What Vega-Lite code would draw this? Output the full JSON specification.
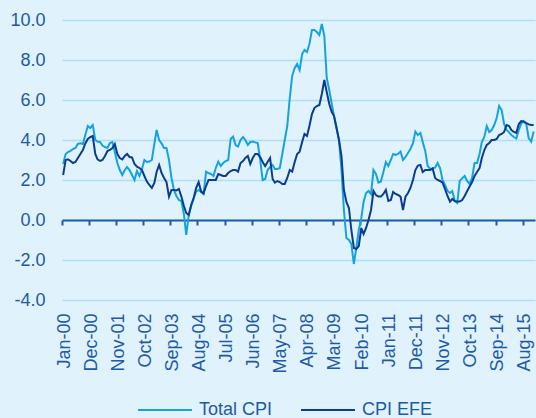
{
"$schema": "https://vega.github.io/schema/vega-lite/v6.json",
"width": 473, "height": 280,
"autosize": {"type": "none"},
"padding": {"left": 62, "top": 20, "right": 1, "bottom": 118},
"background": "#e0f2fb",
"config": {"view": {"stroke": null}, "font": "Liberation Sans"},
"data": {"values": [
{"d":"2000-01-15","t":2.8,"e":2.25},{"d":"2000-02-15","t":3.3,"e":3.0},{"d":"2000-03-15","t":3.4,"e":3.03},{"d":"2000-04-15","t":3.45,"e":2.95},{"d":"2000-05-15","t":3.55,"e":2.85},{"d":"2000-06-15","t":3.6,"e":2.9},{"d":"2000-07-15","t":3.8,"e":3.1},{"d":"2000-08-15","t":3.83,"e":3.3},{"d":"2000-09-15","t":3.8,"e":3.5},{"d":"2000-10-15","t":4.25,"e":3.83},{"d":"2000-11-15","t":4.7,"e":4.05},{"d":"2000-12-15","t":4.6,"e":4.15},
{"d":"2001-01-15","t":4.75,"e":4.2},{"d":"2001-02-15","t":4.0,"e":3.3},{"d":"2001-03-15","t":3.92,"e":3.03},{"d":"2001-04-15","t":3.9,"e":2.95},{"d":"2001-05-15","t":3.72,"e":3.0},{"d":"2001-06-15","t":3.65,"e":3.2},{"d":"2001-07-15","t":3.6,"e":3.45},{"d":"2001-08-15","t":3.85,"e":3.5},{"d":"2001-09-15","t":3.9,"e":3.6},{"d":"2001-10-15","t":3.4,"e":3.8},{"d":"2001-11-15","t":2.85,"e":3.3},{"d":"2001-12-15","t":2.5,"e":3.1},
{"d":"2002-01-15","t":2.25,"e":3.03},{"d":"2002-02-15","t":2.5,"e":3.2},{"d":"2002-03-15","t":2.65,"e":3.3},{"d":"2002-04-15","t":2.5,"e":3.15},{"d":"2002-05-15","t":2.25,"e":3.13},{"d":"2002-06-15","t":2.0,"e":2.8},{"d":"2002-07-15","t":2.45,"e":2.67},{"d":"2002-08-15","t":2.2,"e":2.6},{"d":"2002-09-15","t":2.55,"e":2.5},{"d":"2002-10-15","t":3.0,"e":2.2},{"d":"2002-11-15","t":2.9,"e":1.92},{"d":"2002-12-15","t":2.92,"e":1.75},
{"d":"2003-01-15","t":3.0,"e":1.6},{"d":"2003-02-15","t":3.8,"e":1.85},{"d":"2003-03-15","t":4.5,"e":2.4},{"d":"2003-04-15","t":4.0,"e":2.75},{"d":"2003-05-15","t":3.83,"e":2.35},{"d":"2003-06-15","t":3.6,"e":2.1},{"d":"2003-07-15","t":3.6,"e":1.9},{"d":"2003-08-15","t":3.0,"e":1.17},{"d":"2003-09-15","t":2.1,"e":1.5},{"d":"2003-10-15","t":1.5,"e":1.5},{"d":"2003-11-15","t":1.2,"e":1.48},{"d":"2003-12-15","t":1.0,"e":1.55},
{"d":"2004-01-15","t":0.95,"e":1.17},{"d":"2004-02-15","t":0.3,"e":0.7},{"d":"2004-03-15","t":-0.75,"e":0.35},{"d":"2004-04-15","t":0.25,"e":0.25},{"d":"2004-05-15","t":0.7,"e":0.75},{"d":"2004-06-15","t":1.1,"e":1.1},{"d":"2004-07-15","t":1.42,"e":1.6},{"d":"2004-08-15","t":1.5,"e":1.9},{"d":"2004-09-15","t":1.4,"e":1.42},{"d":"2004-10-15","t":1.3,"e":1.33},{"d":"2004-11-15","t":2.42,"e":1.7},{"d":"2004-12-15","t":2.35,"e":2.0},
{"d":"2005-01-15","t":2.3,"e":2.0},{"d":"2005-02-15","t":2.2,"e":2.0},{"d":"2005-03-15","t":2.6,"e":2.0},{"d":"2005-04-15","t":2.92,"e":2.3},{"d":"2005-05-15","t":2.7,"e":2.25},{"d":"2005-06-15","t":2.85,"e":2.2},{"d":"2005-07-15","t":2.95,"e":2.2},{"d":"2005-08-15","t":3.0,"e":2.35},{"d":"2005-09-15","t":4.05,"e":2.45},{"d":"2005-10-15","t":4.17,"e":2.5},{"d":"2005-11-15","t":3.75,"e":2.5},{"d":"2005-12-15","t":3.67,"e":2.42},
{"d":"2006-01-15","t":4.0,"e":2.85},{"d":"2006-02-15","t":4.15,"e":2.95},{"d":"2006-03-15","t":4.0,"e":3.1},{"d":"2006-04-15","t":3.75,"e":3.2},{"d":"2006-05-15","t":3.9,"e":2.8},{"d":"2006-06-15","t":3.92,"e":3.1},{"d":"2006-07-15","t":3.88,"e":3.3},{"d":"2006-08-15","t":3.85,"e":3.3},{"d":"2006-09-15","t":3.0,"e":3.15},{"d":"2006-10-15","t":2.0,"e":2.9},{"d":"2006-11-15","t":2.05,"e":2.7},{"d":"2006-12-15","t":2.5,"e":2.9},
{"d":"2007-01-15","t":2.65,"e":3.1},{"d":"2007-02-15","t":2.75,"e":2.05},{"d":"2007-03-15","t":2.55,"e":1.87},{"d":"2007-04-15","t":2.55,"e":1.95},{"d":"2007-05-15","t":2.6,"e":1.9},{"d":"2007-06-15","t":3.3,"e":1.8},{"d":"2007-07-15","t":4.0,"e":1.8},{"d":"2007-08-15","t":4.7,"e":2.1},{"d":"2007-09-15","t":6.1,"e":2.5},{"d":"2007-10-15","t":7.2,"e":2.42},{"d":"2007-11-15","t":7.6,"e":2.9},{"d":"2007-12-15","t":7.8,"e":3.3},
{"d":"2008-01-15","t":7.5,"e":3.42},{"d":"2008-02-15","t":8.3,"e":3.9},{"d":"2008-03-15","t":8.5,"e":4.3},{"d":"2008-04-15","t":8.4,"e":4.2},{"d":"2008-05-15","t":8.8,"e":4.7},{"d":"2008-06-15","t":9.5,"e":5.3},{"d":"2008-07-15","t":9.5,"e":5.6},{"d":"2008-08-15","t":9.4,"e":5.7},{"d":"2008-09-15","t":9.25,"e":5.75},{"d":"2008-10-15","t":9.8,"e":6.3},{"d":"2008-11-15","t":9.2,"e":7.0},{"d":"2008-12-15","t":7.1,"e":6.4},
{"d":"2009-01-15","t":6.5,"e":5.8},{"d":"2009-02-15","t":5.8,"e":5.4},{"d":"2009-03-15","t":5.2,"e":5.2},{"d":"2009-04-15","t":4.6,"e":4.6},{"d":"2009-05-15","t":4.0,"e":4.0},{"d":"2009-06-15","t":2.5,"e":3.2},{"d":"2009-07-15","t":0.5,"e":1.5},{"d":"2009-08-15","t":-0.9,"e":0.9},{"d":"2009-09-15","t":-1.0,"e":0.6},{"d":"2009-10-15","t":-1.2,"e":-0.5},{"d":"2009-11-15","t":-2.2,"e":-1.4},{"d":"2009-12-15","t":-1.4,"e":-1.45},
{"d":"2010-01-15","t":-0.5,"e":-1.3},{"d":"2010-02-15","t":0.1,"e":-0.4},{"d":"2010-03-15","t":0.9,"e":-0.7},{"d":"2010-04-15","t":1.35,"e":-0.4},{"d":"2010-05-15","t":1.45,"e":0.0},{"d":"2010-06-15","t":1.3,"e":0.5},{"d":"2010-07-15","t":2.5,"e":1.45},{"d":"2010-08-15","t":2.3,"e":1.25},{"d":"2010-09-15","t":1.87,"e":1.17},{"d":"2010-10-15","t":1.92,"e":1.17},{"d":"2010-11-15","t":2.4,"e":1.3},{"d":"2010-12-15","t":2.9,"e":1.5},
{"d":"2011-01-15","t":2.7,"e":0.95},{"d":"2011-02-15","t":3.0,"e":1.0},{"d":"2011-03-15","t":3.3,"e":1.4},{"d":"2011-04-15","t":3.25,"e":1.3},{"d":"2011-05-15","t":3.3,"e":1.25},{"d":"2011-06-15","t":3.42,"e":1.17},{"d":"2011-07-15","t":3.0,"e":0.5},{"d":"2011-08-15","t":3.15,"e":1.17},{"d":"2011-09-15","t":3.35,"e":1.35},{"d":"2011-10-15","t":3.55,"e":1.6},{"d":"2011-11-15","t":3.83,"e":2.0},{"d":"2011-12-15","t":4.42,"e":2.5},
{"d":"2012-01-15","t":4.25,"e":2.72},{"d":"2012-02-15","t":4.35,"e":2.75},{"d":"2012-03-15","t":3.9,"e":2.4},{"d":"2012-04-15","t":3.45,"e":2.5},{"d":"2012-05-15","t":2.7,"e":2.5},{"d":"2012-06-15","t":2.55,"e":2.5},{"d":"2012-07-15","t":2.58,"e":2.58},{"d":"2012-08-15","t":2.62,"e":2.1},{"d":"2012-09-15","t":2.85,"e":2.0},{"d":"2012-10-15","t":2.6,"e":1.95},{"d":"2012-11-15","t":2.0,"e":1.87},{"d":"2012-12-15","t":1.75,"e":1.55},
{"d":"2013-01-15","t":1.45,"e":1.2},{"d":"2013-02-15","t":1.35,"e":0.92},{"d":"2013-03-15","t":1.45,"e":1.05},{"d":"2013-04-15","t":0.95,"e":0.95},{"d":"2013-05-15","t":0.85,"e":0.92},{"d":"2013-06-15","t":1.95,"e":0.92},{"d":"2013-07-15","t":2.08,"e":1.0},{"d":"2013-08-15","t":2.2,"e":1.2},{"d":"2013-09-15","t":1.95,"e":1.45},{"d":"2013-10-15","t":1.8,"e":1.67},{"d":"2013-11-15","t":2.1,"e":1.9},{"d":"2013-12-15","t":2.85,"e":2.2},
{"d":"2014-01-15","t":2.85,"e":2.4},{"d":"2014-02-15","t":3.3,"e":2.6},{"d":"2014-03-15","t":3.9,"e":3.1},{"d":"2014-04-15","t":4.15,"e":3.5},{"d":"2014-05-15","t":4.7,"e":3.75},{"d":"2014-06-15","t":4.4,"e":3.85},{"d":"2014-07-15","t":4.5,"e":4.0},{"d":"2014-08-15","t":4.75,"e":4.0},{"d":"2014-09-15","t":5.1,"e":4.05},{"d":"2014-10-15","t":5.7,"e":4.25},{"d":"2014-11-15","t":5.5,"e":4.3},{"d":"2014-12-15","t":4.8,"e":4.4},
{"d":"2015-01-15","t":4.5,"e":4.75},{"d":"2015-02-15","t":4.38,"e":4.7},{"d":"2015-03-15","t":4.25,"e":4.5},{"d":"2015-04-15","t":4.15,"e":4.4},{"d":"2015-05-15","t":4.08,"e":4.35},{"d":"2015-06-15","t":4.5,"e":4.8},{"d":"2015-07-15","t":4.83,"e":4.95},{"d":"2015-08-15","t":4.92,"e":4.93},{"d":"2015-09-15","t":4.8,"e":4.85},{"d":"2015-10-15","t":4.1,"e":4.78},{"d":"2015-11-15","t":3.92,"e":4.75},{"d":"2015-12-15","t":4.42,"e":4.75}
]},
"resolve": {"axis": {"x": "independent"}},
"layer": [
{
"mark": {"type": "line", "strokeWidth": 2},
"encoding": {
"x": {"field": "d", "type": "temporal",
 "scale": {"type": "utc", "domain": [{"year": 2000, "month": 1, "date": 1, "utc": true}, {"year": 2016, "month": 1, "date": 1, "utc": true}]},
 "axis": {"orient": "top", "values": [{"year":2000,"month":1,"date":1,"utc":true},{"year":2000,"month":12,"date":1,"utc":true},{"year":2001,"month":11,"date":1,"utc":true},{"year":2002,"month":10,"date":1,"utc":true},{"year":2003,"month":9,"date":1,"utc":true},{"year":2004,"month":8,"date":1,"utc":true},{"year":2005,"month":7,"date":1,"utc":true},{"year":2006,"month":6,"date":1,"utc":true},{"year":2007,"month":5,"date":1,"utc":true},{"year":2008,"month":4,"date":1,"utc":true},{"year":2009,"month":3,"date":1,"utc":true},{"year":2010,"month":2,"date":1,"utc":true},{"year":2011,"month":1,"date":1,"utc":true},{"year":2011,"month":12,"date":1,"utc":true},{"year":2012,"month":11,"date":1,"utc":true},{"year":2013,"month":10,"date":1,"utc":true},{"year":2014,"month":9,"date":1,"utc":true},{"year":2015,"month":8,"date":1,"utc":true}],
  "labels": false, "domain": true, "domainColor": "#1e5aa8", "domainWidth": 2, "ticks": true, "tickColor": "#1e5aa8",
  "tickWidth": 2, "tickSize": -5, "offset": -200, "grid": false, "title": null}},
"y": {"field": "t", "type": "quantitative", "scale": {"domain": [-4, 10], "nice": false, "zero": false},
 "axis": {"values": [-4, -2, 0, 2, 4, 6, 8, 10], "labelExpr": "(datum.value < 0 ? '-' : '') + format(abs(datum.value), '.1f')",
  "domain": false, "ticks": false, "labelFontSize": 18, "labelColor": "#1e5aa8", "labelPadding": 17, "labelOverlap": false,
  "grid": true, "gridColor": "#aedff5", "gridWidth": 1.5, "title": null}},
"color": {"datum": "Total CPI", "type": "nominal",
 "scale": {"domain": ["Total CPI", "CPI EFE"], "range": ["#15a3e0", "#0b3d8e"]},
 "legend": {"orient": "none", "legendX": 75, "legendY": 362, "direction": "horizontal", "symbolType": "stroke",
  "symbolSize": 2916, "symbolStrokeWidth": 2, "labelFontSize": 18, "labelColor": "#1e5aa8", "labelOffset": 6,
  "columnPadding": 24, "title": null, "padding": 0}}
}
},
{
"mark": {"type": "line", "strokeWidth": 2},
"encoding": {
"x": {"field": "d", "type": "temporal",
 "axis": {"orient": "bottom", "values": [{"year":2000,"month":1,"date":1,"utc":true},{"year":2000,"month":12,"date":1,"utc":true},{"year":2001,"month":11,"date":1,"utc":true},{"year":2002,"month":10,"date":1,"utc":true},{"year":2003,"month":9,"date":1,"utc":true},{"year":2004,"month":8,"date":1,"utc":true},{"year":2005,"month":7,"date":1,"utc":true},{"year":2006,"month":6,"date":1,"utc":true},{"year":2007,"month":5,"date":1,"utc":true},{"year":2008,"month":4,"date":1,"utc":true},{"year":2009,"month":3,"date":1,"utc":true},{"year":2010,"month":2,"date":1,"utc":true},{"year":2011,"month":1,"date":1,"utc":true},{"year":2011,"month":12,"date":1,"utc":true},{"year":2012,"month":11,"date":1,"utc":true},{"year":2013,"month":10,"date":1,"utc":true},{"year":2014,"month":9,"date":1,"utc":true},{"year":2015,"month":8,"date":1,"utc":true}],
  "labelExpr": "utcFormat(datum.value, '%b-%y')", "labelAngle": 270, "labelAlign": "right", "labelBaseline": "middle",
  "labelFontSize": 18, "labelColor": "#1e5aa8", "labelPadding": 13, "labelOffset": 2, "ticks": false, "domain": false, "grid": false,
  "title": null, "labelOverlap": false, "labelBound": false, "labelFlush": false}},
"y": {"field": "e", "type": "quantitative",
 "axis": {"values": [-4, -2, 0, 2, 4, 6, 8, 10], "labelExpr": "(datum.value < 0 ? '-' : '') + format(abs(datum.value), '.1f')",
  "domain": false, "ticks": false, "labelFontSize": 18, "labelColor": "#1e5aa8", "labelPadding": 17, "labelOverlap": false,
  "grid": true, "gridColor": "#aedff5", "gridWidth": 1.5, "title": null}},
"color": {"datum": "CPI EFE", "type": "nominal"}
}
}
]
}
